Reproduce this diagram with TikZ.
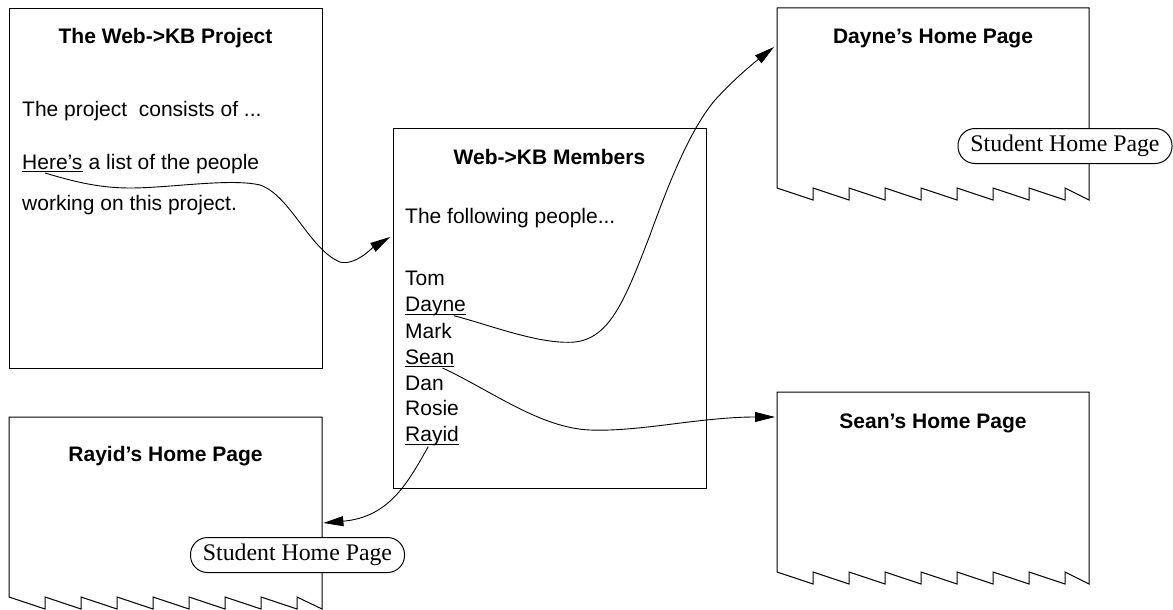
\documentclass[tikz,border=0pt]{standalone}
\usepackage{fontspec}
\newfontfamily\helv{Liberation Sans}
\newfontfamily\pillfont{Liberation Serif}
\usetikzlibrary{arrows.meta,calc}
\tikzset{
 pageline/.style={line width=1pt, draw=black},
 txt/.style={inner sep=0pt, font=\helv\fontsize{21}{25}\selectfont, anchor=base west},
 ttl/.style={inner sep=0pt, font=\helv\bfseries\fontsize{21}{25}\selectfont, anchor=base},
 pill/.style={draw, fill=white, line width=1pt, rounded corners=17pt, minimum width=214pt, minimum height=35pt, inner sep=0pt, font=\pillfont\fontsize{23.8}{26}\selectfont},
 link/.style={line width=0.9pt, -{Triangle[length=20pt,width=10pt]}},
 uline/.style={line width=0.9pt},
 area/.style={inner sep=0pt, anchor=north west}
}
% name, x0, x1, y0, yt, yb
\newcommand{\tornpg}[6]{%
 \draw[pageline] (#3,#4) -- (#2,#4) -- (#2,#5)
   \foreach \i in {1,...,8}{ -- ({#2+36*\i},#6) -- ({#2+36*\i},#5) } -- (#3,#6) -- cycle;
 \node[area, minimum width={(#3-#2)*1pt}, minimum height={(#6-#4)*1pt}] (#1) at (#2,#4) {};
}
\begin{document}
\begin{tikzpicture}[x=1pt,y=-1pt]
\useasboundingbox (0,0) rectangle (1173,610);

% Project page
\node[area, draw, line width=1pt, minimum width=313pt, minimum height=360pt] (proj) at (9,8) {};
\node[ttl] (projT) at (165.5,44) {The Web->KB Project};
\node[txt] (projL1) at (22,116) {The project\ \ consists of ...};
\node[txt] (hereW) at (22,169) {Here’s};
\node[txt] (hereR) at (hereW.base east) {\ a list of the people};
\node[txt] (projL3) at (22,210.7) {working on this project.};
\draw[uline] ($(hereW.base west)+(0,2.5)$) -- ($(hereW.base east)+(0,2.5)$);

% Members page
\node[area, draw, line width=1pt, minimum width=313pt, minimum height=360pt] (memb) at (393,128) {};
\node[ttl] (membT) at (549.5,164) {Web->KB Members};
\node[txt] (membL1) at (405,223) {The following people...};
\node[txt] (tomW) at (405,285) {Tom};
\node[txt] (dayneW) at (405,311.7) {Dayne};
\node[txt] (markW) at (405,338) {Mark};
\node[txt] (seanW) at (405,364) {Sean};
\node[txt] (danW) at (405,390) {Dan};
\node[txt] (rosieW) at (405,415.7) {Rosie};
\node[txt] (rayidW) at (405,441.7) {Rayid};
\foreach \w in {dayneW,seanW,rayidW}{
 \draw[uline] ($(\w.base west)+(0,2.5)$) -- ($(\w.base east)+(0,2.5)$);
}

% Torn pages
\tornpg{dayne}{777}{1089}{8}{188}{200}
\node[ttl] (dayneT) at (933,44) {Dayne’s Home Page};
\node[pill] (dayneP) at (1065,146) {Student Home Page};

\tornpg{sean}{777}{1089}{392}{572}{584}
\node[ttl] (seanT) at (933,428) {Sean’s Home Page};

\tornpg{rayid}{9}{322}{417}{597}{609}
\node[ttl] (rayidT) at (165.5,461) {Rayid’s Home Page};
\node[pill] (rayidP) at (297.5,555) {Student Home Page};

% connector end points
\coordinate (hereS) at ($($(hereW.base west)!0.38!(hereW.base east)$)+(0,4)$);
\coordinate (membIn) at ($(memb.north west)+(-3,109)$);
\coordinate (dayneS) at ($($(dayneW.base west)!0.8!(dayneW.base east)$)+(0,4)$);
\coordinate (dayneIn) at ($(dayne.north west)+(-3,39)$);
\coordinate (seanS) at ($($(seanW.base west)!0.76!(seanW.base east)$)+(0,4)$);
\coordinate (seanIn) at ($(sean.north west)+(-2,25)$);
\coordinate (rayidS) at ($($(rayidW.base west)!0.43!(rayidW.base east)$)+(0,5)$);
\coordinate (rayidIn) at ($(rayid.north east)+(1,106)$);

% connectors
\draw[link] (hereS) .. controls (75,182) and (100,188) .. (130,188)
  .. controls (170,188) and (230,178) .. (260,185)
  .. controls (290,195) and (310,250) .. (340,262)
  .. controls (355,266) and (372,248) .. (membIn);
\draw[link] (dayneS) .. controls (490,325) and (540,345) .. (575,342)
  .. controls (610,338) and (625,300) .. (650,235)
  .. controls (670,180) and (690,130) .. (715,100)
  .. controls (735,78) and (755,62) .. (dayneIn);
\draw[link] (seanS) .. controls (490,390) and (540,428) .. (590,430)
  .. controls (640,432) and (700,417) .. (seanIn);
\draw[link] (rayidS) .. controls (408,482) and (390,517) .. (rayidIn);
\end{tikzpicture}
\end{document}
